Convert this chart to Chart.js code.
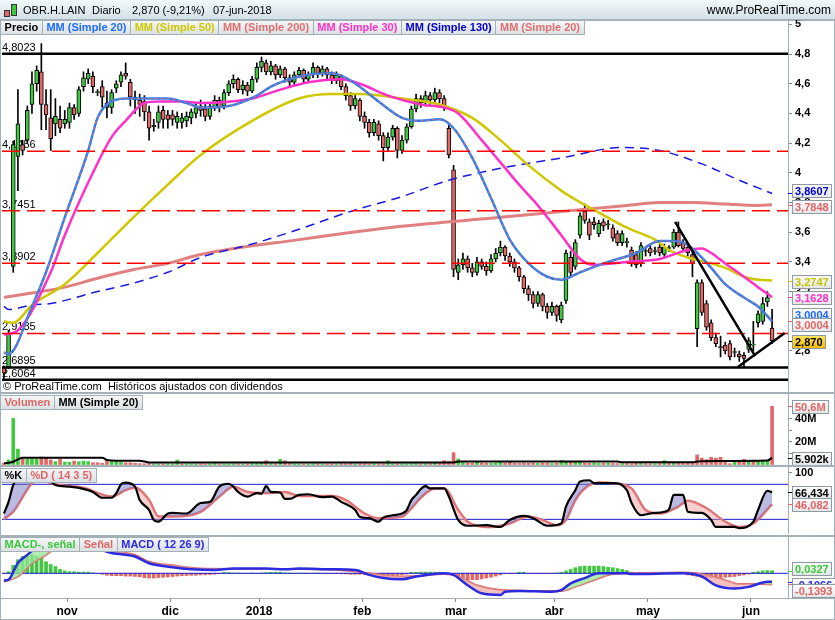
<!DOCTYPE html>
<html>
<head>
<meta charset="utf-8">
<title>OBR.H.LAIN</title>
<script src="https://cdn.jsdelivr.net/npm/chart.js@4.4.1/dist/chart.umd.min.js"></script>
<style>
  body { margin: 0; background: #fff; }
  #page { position: relative; width: 835px; height: 620px; overflow: hidden; background: #fff;
          font-family: "Liberation Sans", Arial, sans-serif; }
  #hdr { position: absolute; left: 0; top: 0; width: 835px; height: 20px; box-sizing: border-box;
         background: linear-gradient(#f2f8fb, #d3e1e8); border-bottom: 1px solid #a6b3bb; font-size: 11px; color: #000; }
  #hdr span.t { position: absolute; top: 4px; white-space: nowrap; }
  .ico { position: absolute; border: 1px solid #333; box-sizing: border-box; }
  canvas { position: absolute; left: 0; }
  .frame { position: absolute; left: 0; width: 835px; box-sizing: border-box; border: 1px solid #a4b0b8; }
  .legend { position: absolute; left: 0; display: flex; }
  .legend span { height: 15px; line-height: 13px; padding: 0 3.6px; box-sizing: border-box; border: 1px solid #a4b0b8;
    margin-right: -1px; background: linear-gradient(#f4f6f7, #dce1e4); font: bold 11px "Liberation Sans", Arial, sans-serif;
    white-space: nowrap; }
  #copy { position: absolute; left: 3px; top: 380px; font-size: 11px; color: #000; white-space: nowrap; }
</style>
</head>
<body>
<div id="page">
  <div class="frame" style="top:0;height:620px"></div>
  <div class="frame" style="top:20px;height:373px"></div>
  <div class="frame" style="top:393px;height:73px"></div>
  <div class="frame" style="top:466px;height:70px"></div>
  <div class="frame" style="top:536px;height:63px"></div>

  <canvas id="priceChart" width="835" height="372" style="top:20px"></canvas>
  <canvas id="volChart" width="835" height="71" style="top:394px"></canvas>
  <canvas id="stochChart" width="835" height="67" style="top:467px"></canvas>
  <canvas id="macdChart" width="835" height="83" style="top:537px"></canvas>

  <div id="hdr">
    <div class="ico" style="left:4px;top:10px;width:6px;height:7px;background:#e26868"></div>
    <div class="ico" style="left:11px;top:4px;width:6px;height:12px;background:#41c841"></div>
    <span class="t" style="left:23px">OBR.H.LAIN</span>
    <span class="t" style="left:92px">Diario</span>
    <span class="t" style="left:132px">2,870 (-9,21%)</span>
    <span class="t" style="left:213px">07-jun-2018</span>
    <span class="t" style="right:4px;font-size:12px;top:3px">www.ProRealTime.com</span>
  </div>

  <div class="legend" style="top:20px">
    <span style="color:#000">Precio</span>
    <span style="color:#1e6cff">MM (Simple 20)</span>
    <span style="color:#cfc800">MM (Simple 50)</span>
    <span style="color:#e07070">MM (Simple 200)</span>
    <span style="color:#ff30c8">MM (Simple 30)</span>
    <span style="color:#0000cc">MM (Simple 130)</span>
    <span style="color:#e07070">MM (Simple 20)</span>
  </div>
  <div id="copy">© ProRealTime.com&nbsp; Históricos ajustados con dividendos</div>
  <div class="legend" style="top:395px">
    <span style="color:#e06666">Volumen</span>
    <span style="color:#000">MM (Simple 20)</span>
  </div>
  <div class="legend" style="top:468px">
    <span style="color:#000">%K</span>
    <span style="color:#e06666">%D ( 14 3 5)</span>
  </div>
  <div class="legend" style="top:537px">
    <span style="color:#3cc83c">MACD-, señal</span>
    <span style="color:#e06666">Señal</span>
    <span style="color:#2a2ae0">MACD ( 12 26 9)</span>
  </div>
</div>

<script>
// Trading days shown on the chart (Oct 2017 - Jun 2018)
const monthDays = [
    [12,13,16,17,18,19,20,23,24,25,26,27,30,31],
    [1,2,3,6,7,8,9,10,13,14,15,16,17,20,21,22,23,24,27,28,29,30],
    [1,4,5,6,7,8,11,12,13,14,15,18,19,20,21,22,27,28,29],
    [2,3,4,5,8,9,10,11,12,15,16,17,18,19,22,23,24,25,26,29,30,31],
    [1,2,5,6,7,8,9,12,13,14,15,16,19,20,21,22,23,26,27,28],
    [1,2,5,6,7,8,9,12,13,14,15,16,19,20,21,22,23,26,27,28,29],
    [3,4,5,6,9,10,11,12,13,16,17,18,19,20,23,24,25,26,27,30],
    [2,3,4,7,8,9,10,11,14,15,16,17,18,21,22,23,24,25,28,29,30,31],
    [1,4,5,6,7]
];
const monthLabels = ['nov', 'dic', '2018', 'feb', 'mar', 'abr', 'may', 'jun'];

// Daily prices
const openP = [
    2.69,2.69,3.37,4.11,4.19,4.22,4.46,4.60,4.68,4.46,
    4.37,4.33,4.36,4.33,4.34,4.44,4.40,4.58,4.63,4.65,
    4.54,4.58,4.44,4.44,4.57,4.61,4.67,4.61,4.51,4.49,
    4.48,4.41,4.31,4.34,4.42,4.39,4.39,4.34,4.34,4.35,
    4.37,4.40,4.45,4.43,4.38,4.44,4.49,4.45,4.54,4.60,
    4.63,4.56,4.59,4.55,4.63,4.71,4.74,4.68,4.72,4.66,
    4.70,4.64,4.61,4.66,4.69,4.63,4.66,4.71,4.67,4.70,
    4.66,4.62,4.65,4.58,4.52,4.45,4.49,4.38,4.34,4.27,
    4.33,4.25,4.17,4.24,4.30,4.15,4.22,4.31,4.43,4.50,
    4.47,4.52,4.49,4.54,4.50,4.30,4.02,3.33,3.38,3.42,
    3.36,3.33,3.40,3.37,3.34,3.42,3.46,3.50,3.44,3.40,
    3.36,3.30,3.22,3.18,3.12,3.18,3.10,3.06,3.10,3.01,
    3.14,3.43,3.37,3.58,3.74,3.67,3.67,3.59,3.67,3.65,
    3.63,3.59,3.53,3.53,3.48,3.45,3.39,3.47,3.49,3.47,
    3.50,3.45,3.49,3.50,3.60,3.53,3.50,3.45,2.95,3.26,
    3.12,2.99,2.89,2.83,2.84,2.85,2.79,2.78,2.77,2.81,
    2.84,2.99,3.00,3.13,2.955
];
const highP = [
    2.70,2.94,4.21,4.56,4.22,4.45,4.68,4.72,4.87,4.56,
    4.56,4.50,4.45,4.42,4.47,4.46,4.58,4.68,4.70,4.68,
    4.56,4.62,4.55,4.56,4.62,4.68,4.74,4.63,4.55,4.53,
    4.52,4.45,4.36,4.45,4.45,4.42,4.42,4.41,4.40,4.41,
    4.43,4.47,4.49,4.46,4.47,4.52,4.51,4.56,4.62,4.66,
    4.64,4.62,4.61,4.65,4.74,4.78,4.76,4.75,4.73,4.72,
    4.71,4.66,4.68,4.71,4.70,4.68,4.74,4.72,4.72,4.71,
    4.68,4.68,4.66,4.60,4.54,4.53,4.50,4.41,4.36,4.36,
    4.35,4.27,4.27,4.32,4.31,4.25,4.33,4.45,4.53,4.52,
    4.55,4.54,4.57,4.56,4.52,4.32,4.05,3.42,3.46,3.44,
    3.39,3.43,3.42,3.40,3.45,3.49,3.54,3.51,3.46,3.42,
    3.37,3.31,3.24,3.20,3.20,3.19,3.12,3.13,3.11,3.13,
    3.48,3.47,3.55,3.73,3.79,3.69,3.70,3.68,3.69,3.68,
    3.65,3.61,3.61,3.56,3.50,3.47,3.53,3.50,3.51,3.50,
    3.52,3.52,3.51,3.62,3.67,3.55,3.52,3.47,3.28,3.28,
    3.14,3.01,2.92,2.90,2.86,2.87,2.82,2.80,2.79,2.89,
    3.00,3.07,3.16,3.20,3.08
];
const lowP = [
    2.61,2.68,3.33,3.88,4.12,4.20,4.40,4.55,4.29,4.29,
    4.15,4.25,4.27,4.30,4.30,4.36,4.38,4.55,4.60,4.54,
    4.52,4.44,4.37,4.40,4.54,4.58,4.63,4.45,4.40,4.38,
    4.35,4.22,4.28,4.30,4.30,4.30,4.32,4.30,4.30,4.31,
    4.33,4.37,4.38,4.35,4.36,4.42,4.41,4.43,4.52,4.57,
    4.54,4.53,4.52,4.54,4.61,4.68,4.66,4.66,4.63,4.64,
    4.61,4.58,4.59,4.64,4.60,4.61,4.64,4.64,4.65,4.63,
    4.60,4.60,4.56,4.49,4.42,4.43,4.35,4.30,4.24,4.25,
    4.22,4.08,4.15,4.22,4.10,4.13,4.20,4.30,4.41,4.44,
    4.45,4.46,4.47,4.47,4.42,4.10,3.30,3.28,3.35,3.33,
    3.30,3.31,3.35,3.31,3.33,3.40,3.44,3.41,3.37,3.33,
    3.27,3.19,3.14,3.09,3.10,3.07,3.02,3.04,3.00,2.99,
    3.12,3.30,3.35,3.56,3.66,3.55,3.62,3.57,3.61,3.62,
    3.54,3.51,3.51,3.50,3.37,3.36,3.37,3.44,3.44,3.45,
    3.44,3.43,3.47,3.49,3.50,3.47,3.44,3.30,2.83,3.04,
    2.94,2.87,2.83,2.76,2.78,2.74,2.76,2.73,2.69,2.79,
    2.80,2.96,2.98,3.10,2.85
];
const closeP = [
    2.65,2.92,4.19,4.33,4.15,4.42,4.60,4.69,4.46,4.39,
    4.23,4.38,4.30,4.36,4.44,4.39,4.56,4.64,4.67,4.58,
    4.545,4.51,4.47,4.54,4.60,4.66,4.65,4.51,4.49,4.46,
    4.41,4.30,4.32,4.41,4.36,4.36,4.36,4.38,4.37,4.38,
    4.41,4.44,4.42,4.38,4.45,4.49,4.44,4.54,4.60,4.63,
    4.56,4.59,4.55,4.63,4.71,4.75,4.68,4.72,4.66,4.70,
    4.64,4.61,4.66,4.69,4.63,4.66,4.71,4.67,4.70,4.66,
    4.62,4.66,4.58,4.52,4.45,4.50,4.38,4.34,4.27,4.34,
    4.25,4.17,4.24,4.30,4.15,4.22,4.31,4.43,4.50,4.47,
    4.52,4.49,4.54,4.50,4.45,4.12,3.35,3.38,3.42,3.36,
    3.33,3.40,3.37,3.34,3.42,3.46,3.50,3.44,3.40,3.36,
    3.30,3.22,3.18,3.12,3.18,3.10,3.06,3.10,3.04,3.11,
    3.46,3.33,3.53,3.71,3.68,3.58,3.65,3.66,3.64,3.655,
    3.56,3.53,3.59,3.535,3.39,3.38,3.51,3.475,3.46,3.475,
    3.46,3.50,3.495,3.60,3.51,3.49,3.46,3.39,3.26,3.06,
    2.96,2.89,2.85,2.82,2.80,2.76,2.795,2.76,2.75,2.87,
    2.845,3.05,3.12,3.16,2.870
];

// Moving averages: [bar index, value]
const ma20 = [[0,2.79],[1,2.78],[6,3.10],[9,3.33],[13,3.70],[18,4.15],[20,4.37],[22,4.46],[26,4.50],[31,4.50],[35,4.50],
    [39,4.47],[42,4.44],[48,4.45],[54,4.52],[57,4.58],[61,4.63],[65,4.66],[70,4.67],[73,4.64],[76,4.58],[80,4.48],
    [85,4.37],[89,4.35],[93,4.36],[96,4.30],[100,4.10],[104,3.83],[108,3.55],[112,3.39],[116,3.30],[119,3.28],[123,3.33],
    [129,3.40],[135,3.46],[140,3.54],[142,3.54],[145,3.53],[147,3.49],[151,3.36],[154,3.25],[158,3.16],[161,3.10],[164,3.0004]];
const ma30 = [[0,2.91],[3,2.94],[10,3.33],[13,3.58],[19,4.00],[23,4.24],[26,4.35],[30,4.47],[33,4.48],[38,4.48],[42,4.47],
    [53,4.50],[59,4.56],[65,4.61],[72,4.63],[76,4.60],[82,4.52],[89,4.46],[94,4.44],[97,4.40],[102,4.22],[106,4.07],
    [110,3.92],[114,3.78],[119,3.58],[123,3.42],[126,3.38],[133,3.40],[140,3.42],[146,3.48],[149,3.49],[151,3.46],
    [154,3.39],[158,3.30],[161,3.23],[164,3.1628]];
const ma50 = [[0,3.00],[2,2.99],[6,3.11],[13,3.25],[20,3.46],[27,3.68],[35,3.92],[42,4.12],[53,4.35],[63,4.50],[70,4.53],
    [76,4.53],[85,4.50],[93,4.46],[100,4.37],[106,4.22],[112,4.05],[119,3.88],[122,3.82],[126,3.75],[133,3.63],[139,3.55],
    [142,3.48],[146,3.43],[151,3.39],[154,3.36],[158,3.30],[161,3.28],[164,3.2747]];
const ma200 = [[0,3.16],[6,3.19],[13,3.23],[20,3.29],[28,3.35],[35,3.39],[42,3.45],[63,3.55],[85,3.64],[106,3.70],
    [119,3.74],[126,3.76],[133,3.78],[140,3.80],[147,3.80],[154,3.79],[161,3.78],[164,3.7848]];
const ma130 = [[0,3.10],[1,3.08],[6,3.11],[10,3.12],[20,3.20],[28,3.26],[35,3.33],[42,3.43],[53,3.52],[63,3.62],[74,3.74],
    [85,3.84],[95,3.95],[106,4.03],[119,4.10],[132,4.17],[140,4.15],[149,4.06],[157,3.95],[164,3.8607]];

// Support / resistance levels and trend lines
const solidLevels = [4.8023, 2.6895, 2.6064];
const dashedLevels = [4.1456, 3.7451, 3.3902, 2.9185];
const trendDown = [[143.3, 3.669], [160.4, 2.766]];
const trendUp = [[156.7, 2.692], [166.7, 2.921]];
const priceTicks = [2.8, 3.0, 3.2, 3.4, 3.6, 3.8, 4.0, 4.2, 4.4, 4.6, 4.8, 5.0];

// Volume (millions) and its 20-day average
const volume = [
    1.0,3.9,40,13.4,5.0,4.5,4.8,4.6,6.5,5.5,
    4.0,2.5,4.5,2.2,2.0,3.0,2.4,3.0,2.5,1.5,
    1.5,1.0,3.5,2.5,2.5,1.8,1.5,1.5,1.0,0.8,
    0.6,0.8,0.5,0.6,0.5,0.7,0.5,3.9,0.6,0.5,
    0.6,0.5,0.7,0.5,0.6,0.8,0.5,0.6,0.5,0.7,
    0.6,0.5,0.6,0.8,0.9,1.0,3.3,0.8,0.7,4.5,
    3.3,0.8,0.6,0.7,0.5,0.6,0.6,0.7,0.5,0.6,
    0.6,0.5,0.8,0.7,0.9,0.6,0.8,0.7,0.6,0.8,
    0.7,0.6,3.3,0.6,0.8,0.7,0.6,0.8,0.9,0.7,
    0.8,0.7,1.0,0.9,3.3,2.6,10.3,4.8,1.5,1.2,
    1.0,2.8,1.2,1.0,0.9,1.1,2.5,1.2,2.3,1.0,
    0.9,1.2,1.0,1.3,0.9,1.1,1.0,0.8,1.0,3.5,
    2.6,2.3,2.0,1.8,1.2,1.0,1.1,0.9,1.0,1.0,
    0.9,0.8,0.7,0.8,0.7,1.0,1.5,0.8,0.7,0.8,
    0.9,3.3,1.0,1.5,1.2,1.0,1.3,1.5,8.3,5.6,
    4.3,6.3,5.6,6.3,3.6,0.7,2.5,3.0,4.5,3.7,
    3.7,3.5,3.0,2.8,50.6
];
const volMa = [[0,1.0],[2,2.4],[3,4.5],[4,5.9],[21,5.9],[22,3.9],[24,3.3],[29,3.3],[31,1.8],[96,1.8],[97,2.6],
    [131,2.6],[132,1.9],[147,1.9],[148,2.6],[153,3.0],[163,3.4],[164,5.902]];
const volTicks = [10, 20, 30, 40, 50];

// Stochastic %K / %D
const stochK = [[0,30],[1,50],[2,79],[4,97],[6,100],[8,98],[10,85],[11,79],[14,76],[16,74],[19,67],[21,57],[23,57],[24,65],
    [25,80],[26,83],[28,76],[29,53],[31,36],[32,19],[33,16],[35,30],[36,31],[39,30],[42,48],[44,50],[46,76],[48,81],[49,76],
    [50,67],[52,59],[54,65],[55,64],[56,77],[57,67],[59,66],[60,55],[61,55],[63,62],[65,63],[68,58],[70,59],[72,50],[75,36],
    [76,24],[78,22],[80,16],[81,23],[83,27],[85,30],[86,36],[87,53],[88,62],[89,72],[90,77],[91,73],[94,73],[95,59],[97,19],
    [99,9],[103,10],[106,7],[108,19],[111,26],[113,22],[116,9],[119,13],[120,42],[122,70],[123,85],[125,87],[126,82],
    [130,82],[133,70],[134,48],[136,27],[138,30],[141,33],[142,37],[143,62],[145,62],[146,33],[149,31],[151,19],[152,7],
    [156,7],[157,5],[160,16],[161,36],[163,69],[164,66.434]];
const stochD = [[0,20.6],[2,33],[6,82],[8,90],[10,82],[17,74],[23,59],[26,70],[28,74],[31,53],[33,25],[36,25],[42,33],
    [46,59],[49,76],[52,67],[56,65],[60,67],[63,60],[70,60],[73,53],[77,30],[80,22],[85,25],[87,39],[89,57],[92,73],
    [94,73],[97,36],[99,16],[101,9],[104,7],[108,13],[112,25],[115,19],[118,10],[120,19],[122,53],[124,73],[127,83],
    [130,82],[134,73],[137,36],[140,30],[144,42],[146,52],[150,39],[154,16],[157,7],[160,13],[164,46.082]];
const stochTicks = [100];

// MACD (12 26 9)
const macdLine = [[0,-0.09],[1,-0.08],[3,0.13],[5,0.23],[9,0.42],[12,0.47],[16,0.45],[19,0.36],[22,0.27],[28,0.21],
    [31,0.125],[36,0.075],[40,0.05],[45,0.04],[49,0.06],[56,0.06],[60,0.05],[63,0.06],[70,0.05],[75,0.04],[78,-0.02],
    [81,-0.06],[85,-0.075],[88,-0.04],[94,0],[96,-0.02],[99,-0.15],[102,-0.25],[106,-0.27],[107,-0.23],[110,-0.22],
    [117,-0.23],[119,-0.21],[121,-0.125],[124,-0.06],[127,0],[133,0],[134,-0.01],[145,0],[149,-0.04],[152,-0.15],
    [156,-0.19],[159,-0.17],[163,-0.105],[164,-0.1066]];
const signalLine = [[0,-0.105],[3,-0.04],[6,0.125],[9,0.23],[10,0.27],[14,0.34],[18,0.35],[22,0.29],[28,0.23],[31,0.145],
    [36,0.10],[42,0.06],[49,0.055],[63,0.055],[74,0.03],[78,0],[85,-0.04],[88,-0.035],[94,-0.01],[97,-0.04],[101,-0.15],
    [106,-0.21],[113,-0.22],[119,-0.22],[122,-0.17],[126,-0.085],[130,-0.01],[134,0],[145,0.01],[150,-0.02],[154,-0.085],
    [157,-0.135],[161,-0.135],[164,-0.1393]];
const macdHist = [
    -0.005,0.02,0.10,0.17,0.21,0.23,0.23,0.21,0.19,0.145,
    0.11,0.085,0.05,0.03,0.02,0.02,0.015,0.015,0.015,0.005,
    0,-0.012,-0.025,-0.03,-0.03,-0.03,-0.035,-0.035,-0.04,-0.045,
    -0.055,-0.06,-0.06,-0.055,-0.05,-0.045,-0.04,-0.035,-0.03,-0.028,
    -0.025,-0.025,-0.02,-0.02,-0.015,-0.012,-0.005,0.012,0.01,0.004,
    0.003,-0.003,0.002,0.003,-0.002,0.004,0.008,0.012,0.012,0.012,
    0.005,0.003,-0.002,0.003,0.002,-0.003,0.002,0.003,-0.002,-0.003,
    -0.003,-0.005,-0.006,-0.008,-0.012,-0.012,-0.012,-0.015,-0.025,-0.03,
    -0.035,-0.04,-0.035,-0.03,-0.025,-0.02,-0.01,0.012,0.012,0.014,
    0.015,0.015,0.014,0.012,0.005,-0.01,-0.02,-0.04,-0.06,-0.08,
    -0.08,-0.08,-0.07,-0.06,-0.05,-0.035,-0.02,-0.005,-0.005,-0.004,
    0.012,0.012,-0.003,-0.003,-0.004,-0.003,-0.003,-0.002,0.004,0.012,
    0.03,0.05,0.07,0.085,0.09,0.09,0.09,0.09,0.085,0.075,
    0.07,0.06,0.05,0.035,0.015,0.004,0.003,0.002,-0.002,0.002,
    0.003,0.004,0.012,0.012,0.012,0.008,-0.02,-0.03,-0.04,-0.05,
    -0.055,-0.055,-0.055,-0.055,-0.05,-0.045,-0.04,-0.03,-0.02,-0.01,
    0.012,0.02,0.03,0.035,0.0327
];

// ---------------------------------------------------------------
const FONT = '"Liberation Sans", Arial, sans-serif';
const GREEN = '#41c841', RED = '#e26868', SALMON = '#e07070';
const X_MIN = -0.4, X_MAX = 167.4;
const AXIS_W = 47;

Chart.defaults.font.family = FONT;
Chart.defaults.animation = false;
Chart.defaults.plugins.legend.display = false;
Chart.defaults.plugins.tooltip.enabled = false;

// bar index where each month starts (tick goes between bars)
const monthTicks = [];
let count = 0;
monthDays.forEach((days, m) => {
    if (m > 0) monthTicks.push(count - 0.5);
    count += days.length;
});

const pts = arr => arr.map(p => ({ x: p[0], y: p[1] }));
const last = arr => arr[arr.length - 1][1];
const flat = v => [{ x: X_MIN, y: v }, { x: X_MAX, y: v }];
const fmt = (v, d) => v.toFixed(d).replace('.', ',');

function lineDs(data, color, width, extra) {
    return Object.assign({
        type: 'line', data: data, borderColor: color, borderWidth: width,
        pointRadius: 0, tension: 0.35, cubicInterpolationMode: 'monotone', fill: false
    }, extra || {});
}

function xScale(show) {
    return {
        type: 'linear', min: X_MIN, max: X_MAX, offset: false, display: show,
        afterBuildTicks: s => { s.ticks = monthTicks.map(v => ({ value: v })); },
        afterFit: s => {
            if (show) s.height = 22;
            s.paddingLeft = 0; s.paddingRight = 0;
        },
        ticks: {
            autoSkip: false, maxRotation: 0, padding: 2, color: '#000',
            font: { size: 12, weight: 'bold' },
            callback: (v, i) => monthLabels[i]
        },
        grid: { drawOnChartArea: false, tickLength: 4, color: '#7d8890', offset: false },
        border: { color: '#a4b0b8' }
    };
}

function yScale(min, max, ticks, label) {
    return {
        position: 'right', min: min, max: max,
        afterBuildTicks: s => { s.ticks = ticks.map(v => ({ value: v })); },
        afterFit: s => { s.width = AXIS_W; s.paddingTop = 0; s.paddingBottom = 0; },
        ticks: { autoSkip: false, padding: 3, color: '#000', font: { size: 11, weight: 'bold' }, callback: label },
        grid: { drawOnChartArea: false, tickLength: 4, color: '#7d8890' },
        border: { color: '#a4b0b8' }
    };
}

// value boxes on the right axis
function valueBoxes(items) {
    return {
        id: 'valueBoxes',
        afterDraw(chart) {
            const ctx = chart.ctx, y = chart.scales.y, right = chart.chartArea.right;
            ctx.save();
            ctx.font = 'bold 11px ' + FONT;
            items.forEach(b => {
                const py = Math.round(y.getPixelForValue(b.value)) + 0.5;
                ctx.strokeStyle = b.color;
                ctx.lineWidth = 1;
                ctx.beginPath(); ctx.moveTo(right, py); ctx.lineTo(right + 4, py); ctx.stroke();
                const w = Math.ceil(ctx.measureText(b.text).width) + 6;
                const bx = right + 4, by = Math.round(py + (b.dy || 0) - 7);
                const g = ctx.createLinearGradient(0, by, 0, by + 14);
                const bg = b.bg || ['#fdfdfd', '#e1e4e6'];
                g.addColorStop(0, bg[0]); g.addColorStop(1, bg[1]);
                ctx.fillStyle = g;
                ctx.fillRect(bx, by, w, 14);
                ctx.strokeStyle = '#8f9aa2';
                ctx.strokeRect(bx + 0.5, by + 0.5, w - 1, 13);
                ctx.fillStyle = b.color;
                ctx.textBaseline = 'middle';
                ctx.fillText(b.text, bx + 3, by + 7.5);
            });
            ctx.restore();
        }
    };
}

// level labels on the left of the price panel
const levelLabels = {
    id: 'levelLabels',
    beforeDatasetsDraw(chart) {
        const ctx = chart.ctx, y = chart.scales.y;
        ctx.save();
        ctx.font = '11px ' + FONT;
        ctx.fillStyle = '#000';
        solidLevels.concat(dashedLevels).forEach(v => {
            ctx.fillText(fmt(v, 4), 2, y.getPixelForValue(v) - 3);
        });
        ctx.restore();
    }
};

function initPriceChart() {
    const ctx = document.getElementById('priceChart');
    const idx = closeP.map((_, i) => i);
    const bodies = idx.map(i => ({ x: i, y: [openP[i], closeP[i]] }));
    const wicks = idx.map(i => ({ x: i, y: [lowP[i], highP[i]] }));
    const colors = idx.map(i => closeP[i] >= openP[i] ? GREEN : RED);

    const datasets = [
        lineDs(pts(trendDown), '#000', 2.5, { tension: 0 }),
        lineDs(pts(trendUp), '#000', 2.5, { tension: 0 })
    ];
    solidLevels.forEach(v => datasets.push(lineDs(flat(v), '#000', 2.5, { tension: 0 })));
    dashedLevels.forEach(v => datasets.push(lineDs(flat(v), '#ff0000', 1.5, { tension: 0, borderDash: [18, 7] })));
    datasets.push(
        lineDs(pts(ma20), SALMON, 1, { borderDash: [3, 3] }),
        lineDs(pts(ma20), '#2d7cf0', 2.5),
        lineDs(pts(ma30), '#ff30c8', 2.5),
        lineDs(pts(ma50), '#cfc800', 2.5),
        lineDs(pts(ma130), '#1a1ae0', 1.5, { borderDash: [9, 6] }),
        lineDs(pts(ma200), '#e08080', 3),
        { type: 'bar', data: bodies, backgroundColor: colors, borderColor: '#000', borderWidth: 1,
          borderSkipped: false, barThickness: 4, minBarLength: 1, grouped: false },
        { type: 'bar', data: wicks, backgroundColor: '#000', barThickness: 1, grouped: false }
    );

    new Chart(ctx, {
        type: 'line',
        data: { datasets: datasets },
        options: {
            responsive: false,
            layout: { padding: { left: 2, right: 0, top: 0, bottom: 0 } },
            scales: {
                x: xScale(false),
                y: yScale(2.5239, 5.029, priceTicks, v => fmt(v, 1).replace(',0', ''))
            }
        },
        plugins: [levelLabels, valueBoxes([
            { value: last(ma130), text: fmt(last(ma130), 4), color: '#0000cc', dy: -3 },
            { value: last(ma200), text: fmt(last(ma200), 4), color: '#e06666', dy: 1 },
            { value: last(ma50), text: fmt(last(ma50), 4), color: '#c8c400' },
            { value: last(ma30), text: fmt(last(ma30), 4), color: '#ff30c8' },
            { value: last(ma20), text: fmt(last(ma20), 4), color: '#1e6cff', dy: -7 },
            { value: last(ma20), text: fmt(last(ma20), 4), color: '#e06666', dy: 3 },
            { value: closeP[closeP.length - 1], text: fmt(closeP[closeP.length - 1], 3), color: '#000',
              bg: ['#ffe866', '#f2b600'] }
        ])]
    });
}

function initVolumeChart() {
    const ctx = document.getElementById('volChart');
    const bars = volume.map((v, i) => ({ x: i, y: v }));
    const colors = volume.map((v, i) => (i === 0 ? closeP[0] >= openP[0] : closeP[i] >= closeP[i - 1]) ? GREEN : RED);
    new Chart(ctx, {
        type: 'line',
        data: {
            datasets: [
                lineDs(pts(volMa), '#000', 2, { tension: 0.2 }),
                { type: 'bar', data: bars, backgroundColor: colors, barThickness: 3, grouped: false }
            ]
        },
        options: {
            responsive: false,
            layout: { padding: { left: 2, right: 0, top: 0, bottom: 0 } },
            scales: {
                x: xScale(false),
                y: yScale(-0.43, 61.3, volTicks, v => v % 20 === 0 ? v + 'M' : '')
            }
        },
        plugins: [valueBoxes([
            { value: volume[volume.length - 1], text: fmt(volume[volume.length - 1], 1) + 'M', color: '#e06666' },
            { value: last(volMa), text: last(volMa).toFixed(3) + 'k', color: '#000' }
        ])]
    });
}

function initStochChart() {
    const ctx = document.getElementById('stochChart');
    new Chart(ctx, {
        type: 'line',
        data: {
            datasets: [
                lineDs(pts(stochK), '#000', 2.2, {
                    fill: { target: 1, above: 'rgba(120,120,195,0.5)', below: 'rgba(240,150,150,0.45)' }
                }),
                lineDs(pts(stochD), '#e07070', 2.5),
                lineDs(flat(80), '#1c1ccc', 1, { tension: 0 }),
                lineDs(flat(20), '#1c1ccc', 1, { tension: 0 })
            ]
        },
        options: {
            responsive: false,
            layout: { padding: { left: 2, right: 0, top: 0, bottom: 0 } },
            scales: {
                x: xScale(false),
                y: yScale(-5.1, 109.7, stochTicks, v => String(v))
            }
        },
        plugins: [valueBoxes([
            { value: last(stochK), text: fmt(last(stochK), 3), color: '#000' },
            { value: last(stochD), text: fmt(last(stochD), 3), color: '#e06666' }
        ])]
    });
}

function initMacdChart() {
    const ctx = document.getElementById('macdChart');
    const bars = macdHist.map((v, i) => ({ x: i, y: v }));
    new Chart(ctx, {
        type: 'line',
        data: {
            datasets: [
                lineDs(pts(macdLine), '#2a2ae0', 2.5, {
                    fill: { target: 1, above: 'rgba(150,230,150,0.75)', below: 'rgba(240,165,165,0.7)' }
                }),
                lineDs(pts(signalLine), '#e07070', 2),
                lineDs(flat(0), '#1c1ccc', 1, { tension: 0 }),
                { type: 'bar', data: bars, backgroundColor: macdHist.map(v => v >= 0 ? GREEN : RED),
                  barThickness: 3, grouped: false }
            ]
        },
        options: {
            responsive: false,
            layout: { padding: { left: 2, right: 0, top: 0, bottom: 0 } },
            scales: {
                x: xScale(true),
                y: yScale(-0.309, 0.454, [], () => '')
            }
        },
        plugins: [valueBoxes([
            { value: macdHist[macdHist.length - 1], text: fmt(macdHist[macdHist.length - 1], 4), color: '#3cc83c', dy: -3 },
            { value: last(macdLine), text: fmt(last(macdLine), 4), color: '#2a2ae0', dy: 2 },
            { value: last(signalLine), text: fmt(last(signalLine), 4), color: '#e06666', dy: 6 }
        ])]
    });
}

initPriceChart();
initVolumeChart();
initStochChart();
initMacdChart();
</script>
</body>
</html>
